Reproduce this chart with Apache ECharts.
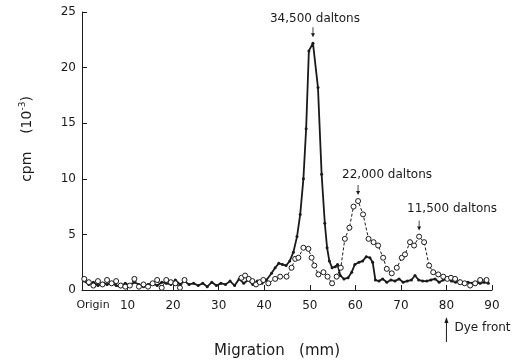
<!DOCTYPE html>
<html lang="en">
<head>
    <meta charset="UTF-8">
    <title>cpm vs migration</title>
    <script src="https://cdn.jsdelivr.net/npm/echarts@6/dist/echarts.min.js"></script>
    <style>
        html, body { margin: 0; padding: 0; background: #fff; }
    </style>
</head>
<body>
<div id="chart" style="width:522px;height:364px;"></div>
<script>
    // migration (mm) and cpm (x10^-3), solid line with filled dots
    var solidMm = [0.5,1.5,2.5,3.5,4.5,5.5,6.5,7.5,8.5,9.5,10.5,11.5,12.5,13.5,14.5,15.5,16.5,17.5,18.5,19.5,
        20.5,21.5,22.5,23.5,24.5,25.5,26.5,27.5,28.5,29.5,30.5,31.5,32.5,33.5,34.5,35.5,36.5,37.5,38.5,39.5,
        40.5,41.6,42.4,43.2,44.0,44.8,45.6,46.4,47.2,47.9,48.6,49.2,49.8,50.7,51.8,52.6,53.3,53.8,54.3,54.9,
        55.6,56.1,56.7,57.5,58.4,59.2,59.9,60.8,61.6,62.4,63.2,63.8,64.4,65.2,66.0,66.9,67.8,68.7,69.6,70.5,
        71.4,72.3,73.1,73.9,74.8,75.7,76.6,77.5,78.4,79.3,80.2,81.1,82.0,82.9,83.8,84.7,85.6,86.5,87.4,88.3,89.2];
    var solidCpm = [0.8,0.5,0.7,0.4,0.6,0.5,0.7,0.4,0.3,0.6,0.4,0.7,0.5,0.3,0.5,0.6,0.4,0.7,0.6,0.5,
        0.9,0.5,0.8,0.5,0.6,0.4,0.6,0.3,0.7,0.4,0.6,0.5,0.8,0.4,1.0,0.6,0.9,0.5,0.8,0.6,
        0.9,1.5,2.0,2.4,2.3,2.2,2.6,3.4,4.8,6.8,10.0,14.5,21.5,22.2,18.2,10.4,6.0,3.8,2.6,2.0,
        2.1,2.3,1.3,1.0,1.1,1.6,2.3,2.5,2.6,3.0,2.9,2.5,0.9,0.8,1.0,0.7,0.9,0.8,1.0,0.7,
        0.8,0.9,1.3,0.9,0.8,0.8,0.9,1.0,0.7,0.9,1.1,0.8,0.7,0.8,0.6,0.7,0.6,0.7,0.6,0.7,0.6];

    // dashed line with open circles (null = no point)
    var openMm = [0.5,1.5,2.5,3.5,4.5,5.5,6.5,7.5,8.5,9.5,10.5,11.5,12.5,13.5,14.5,15.5,16.5,17.5,18.5,19.5,
        20.5,21.5,22.5,28.0,35.0,35.8,36.6,37.4,38.2,39.0,39.8,40.9,42.4,43.5,44.9,46.0,46.8,47.5,48.6,49.7,
        50.4,51.0,51.9,53.0,53.9,54.9,55.9,56.8,57.7,58.7,59.6,60.6,61.7,62.9,64.0,65.0,66.1,66.9,68.0,69.1,
        70.2,70.9,72.0,72.9,74.0,75.1,76.2,77.1,78.2,79.3,80.2,81.0,81.9,83.0,84.0,85.2,86.3,87.4,88.8];
    var openCpm = [1.0,0.7,0.4,0.8,0.5,0.9,0.6,0.8,0.4,0.3,0.4,1.0,0.3,0.5,0.3,0.6,0.9,0.2,0.9,0.7,
        0.6,0.2,0.9,null,1.1,1.3,1.0,0.8,0.5,0.7,0.9,0.6,1.0,1.2,1.2,2.0,2.8,2.9,3.8,3.7,
        2.9,2.2,1.4,1.6,1.2,0.6,1.2,2.0,4.6,5.6,7.5,8.0,6.8,4.6,4.3,4.0,2.9,1.9,1.5,2.0,
        2.9,3.2,4.3,4.0,4.8,4.3,2.2,1.6,1.4,1.2,1.0,1.1,1.0,0.7,0.6,0.4,0.6,0.9,0.9];

    var xTicks = [0, 10, 20, 30, 40, 50, 60, 70, 80, 90];
    var yTicks = [0, 5, 10, 15, 20, 25];

    // peak labels: [series, mm, cpm, text]
    var peakLabels = [
        ['solid', 50.7, 22.2, '34,500 daltons'],
        ['open', 60.6, 8.0, '22,000 daltons'],
        ['open', 74.0, 4.8, '11,500 daltons']
    ];
    var dyeFront = 80;

    var font = 'DejaVu Sans';
    var ink = '#1a1a1a';
    var arrowPath = 'path://M0.8,0 L1.2,0 L1.2,6 L2,6 L1,10 L0,6 L0.8,6 Z';

    function pairs(xs, ys) {
        var out = [];
        for (var i = 0; i < xs.length; i++) out.push([xs[i], ys[i]]);
        return out;
    }

    function marks(which, labelOffsets) {
        var out = [];
        peakLabels.forEach(function (p) {
            if (p[0] !== which) return;
            var off = labelOffsets[p[3]];
            out.push({
                coord: [p[1], p[2]],
                label: { show: true, formatter: p[3], position: 'top', distance: off[1], offset: [off[0], 0] }
            });
        });
        return out;
    }

    var labelOffsets = {
        '34,500 daltons': [2, 2],
        '22,000 daltons': [29, 4],
        '11,500 daltons': [33, 6]
    };

    var markStyle = {
        symbol: arrowPath,
        symbolSize: [4, 10],
        symbolOffset: [0, -11],
        silent: true,
        itemStyle: { color: ink },
        label: { color: ink, fontFamily: font, fontSize: 12 }
    };

    var chart = echarts.init(document.getElementById('chart'));

    var option = {
        animation: false,
        backgroundColor: '#fff',
        textStyle: { fontFamily: font, color: ink },
        grid: { left: 82, right: 30, top: 12, bottom: 71 },
        xAxis: {
            type: 'value',
            min: xTicks[0],
            max: xTicks[xTicks.length - 1],
            interval: 10,
            name: 'Migration   (mm)',
            nameLocation: 'middle',
            nameGap: 54,
            nameTextStyle: { fontFamily: font, fontSize: 15, color: ink, padding: [0, 20, 0, 0] },
            axisLine: { lineStyle: { color: ink, width: 1 } },
            axisTick: { inside: true, length: 5, lineStyle: { color: ink } },
            splitLine: { show: false },
            axisLabel: {
                margin: 10,
                fontFamily: font,
                fontSize: 12,
                color: ink,
                formatter: function (v) { return v === 0 ? '{o|Origin}' : String(v); },
                rich: { o: { fontFamily: font, fontSize: 11, color: ink, padding: [0, 0, 0, 22] } }
            }
        },
        yAxis: {
            type: 'value',
            min: yTicks[0],
            max: yTicks[yTicks.length - 1],
            interval: 5,
            axisLine: { show: true, lineStyle: { color: ink, width: 1 } },
            axisTick: { show: true, inside: true, length: 5, lineStyle: { color: ink } },
            splitLine: { show: false },
            axisLabel: { margin: 6, fontFamily: font, fontSize: 12, color: ink }
        },
        series: [
            {
                name: 'open',
                type: 'line',
                data: pairs(openMm, openCpm),
                connectNulls: false,
                symbol: 'circle',
                symbolSize: 5,
                showAllSymbol: true,
                lineStyle: { color: ink, width: 1, type: [3, 2] },
                itemStyle: { color: '#fff', borderColor: ink, borderWidth: 1 },
                z: 3,
                markPoint: Object.assign({ data: marks('open', labelOffsets) }, markStyle)
            },
            {
                name: 'solid',
                type: 'line',
                data: pairs(solidMm, solidCpm),
                symbol: 'circle',
                symbolSize: 3,
                showAllSymbol: true,
                lineStyle: { color: ink, width: 1.8 },
                itemStyle: { color: ink },
                z: 2,
                markPoint: Object.assign({ data: marks('solid', labelOffsets) }, markStyle)
            }
        ]
    };
    chart.setOption(option);

    // y-axis title and the dye front arrow below the axis
    var base = chart.convertToPixel({ gridIndex: 0 }, [dyeFront, 0]);
    var yMid = chart.convertToPixel({ gridIndex: 0 }, [0, 12.5]);
    chart.setOption({
        graphic: [
            {
                type: 'text',
                x: 27,
                y: yMid[1] - 12,
                rotation: Math.PI / 2,
                style: {
                    text: 'cpm    (10{s|-3})',
                    fontFamily: font,
                    fontSize: 14,
                    fill: ink,
                    align: 'center',
                    verticalAlign: 'middle',
                    rich: { s: { fontFamily: font, fontSize: 9, fill: ink, verticalAlign: 'top', padding: [0, 0, 8, 0] } }
                }
            },
            {
                type: 'line',
                shape: { x1: base[0], y1: base[1] + 52, x2: base[0], y2: base[1] + 30 },
                style: { stroke: ink, lineWidth: 1 }
            },
            {
                type: 'polygon',
                shape: { points: [[base[0] - 2, base[1] + 33], [base[0] + 2, base[1] + 33], [base[0], base[1] + 27]] },
                style: { fill: ink }
            },
            {
                type: 'text',
                x: base[0] + 8,
                y: base[1] + 38,
                style: { text: 'Dye front', fontFamily: font, fontSize: 12, fill: ink, align: 'left', verticalAlign: 'middle' }
            }
        ]
    });
</script>
</body>
</html>
